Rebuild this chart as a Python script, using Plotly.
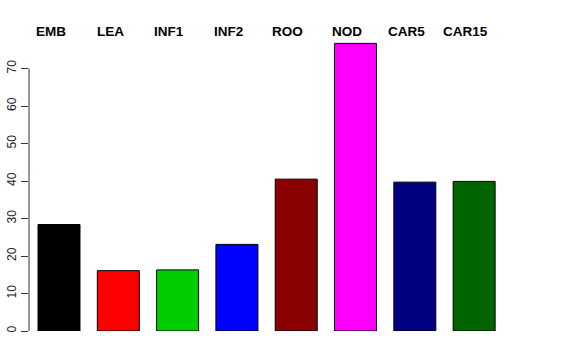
import plotly.graph_objects as go

categories = ["EMB", "LEA", "INF1", "INF2", "ROO", "NOD", "CAR5", "CAR15"]
values = [28.4, 16.1, 16.3, 23.1, 40.5, 76.7, 39.7, 39.9]
colors = ["#000000", "#FF0000", "#00CD00", "#0000FF", "#8B0000", "#FF00FF", "#000080", "#006400"]
tick_vals = [0, 10, 20, 30, 40, 50, 60, 70]

xs = list(range(len(categories)))

fig = go.Figure()
fig.add_trace(go.Bar(
    x=xs, y=values, width=0.708,
    marker=dict(color=colors, line=dict(color="black", width=1)),
    showlegend=False, hoverinfo="skip",
))

for i, c in enumerate(categories):
    fig.add_annotation(x=i - 0.14, y=1, xref="x", yref="paper",
                       text=f"<b>{c}</b>", showarrow=False,
                       xanchor="center", yanchor="middle",
                       font=dict(family="Liberation Sans, Arial, sans-serif", size=13.5, color="black"))

fig.add_shape(type="line", xref="paper", yref="y", x0=0, x1=0,
              y0=min(tick_vals), y1=max(tick_vals), line=dict(color="#333333", width=1))

fig.update_layout(
    width=576, height=360,
    margin=dict(l=29, r=30, t=31, b=29, autoexpand=False),
    paper_bgcolor="white", plot_bgcolor="white",
    font=dict(family="Liberation Sans, Arial, sans-serif", color="black"),
    xaxis=dict(range=[-0.506, 8.212], showticklabels=False, showgrid=False,
               zeroline=False, showline=False, ticks="", automargin=False),
    yaxis=dict(range=[0, 80], tickvals=tick_vals, ticktext=[str(v) for v in tick_vals],
               ticks="outside", ticklen=7, tickcolor="#333333", tickwidth=1,
               tickangle=-90, tickfont=dict(size=12, color="#222222"),
               showgrid=False, zeroline=False, showline=False, automargin=False),
)

fig.write_html("out.html", config={"displayModeBar": False},
               post_script="document.body.style.margin='0';")
